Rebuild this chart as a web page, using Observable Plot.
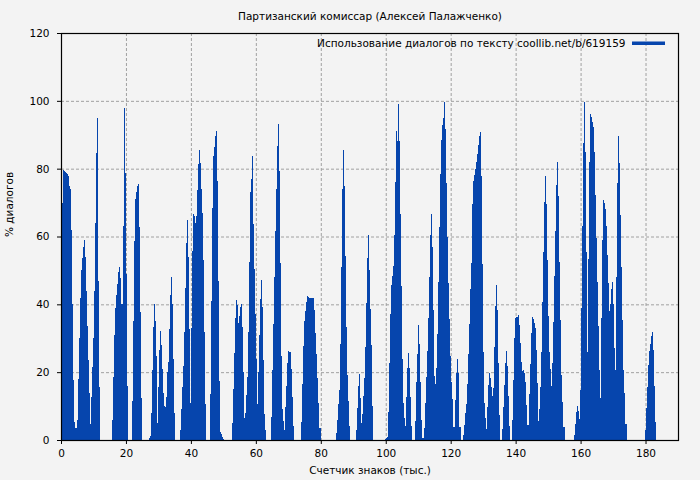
<!DOCTYPE html>
<html>
<head>
<meta charset="utf-8">
<script src="https://cdn.jsdelivr.net/npm/d3@7"></script>
<script src="https://cdn.jsdelivr.net/npm/@observablehq/plot@0.6"></script>
<style>
  html, body { margin: 0; padding: 0; background: #f3f3f3; }
  #chart svg { display: block; }
</style>
</head>
<body>
<div id="chart"></div>
<script>
const titleText = "Партизанский комиссар (Алексей Палажченко)";
const legendText = "Использование диалогов по тексту coollib.net/b/619159";
const xLabel = "Счетчик знаков (тыс.)";
const yLabel = "% диалогов";
const xTicks = [0, 20, 40, 60, 80, 100, 120, 140, 160, 180];
const yTicks = [0, 20, 40, 60, 80, 100, 120];
const chunk = 0.308; // thousands of characters per bar

// share of dialogue (%) per chunk, in order along the text
const dialogShare = [
  52,70,79.5,79.3,79,78.6,78.3,77.7,75,74, 62,40,17.7,5.4,3.4,3.4,6,18,30,42,
  50,53.6,57,59,54,44,33.6,23.6,14,4.7, 12.8,21.6,30,44,64,84.5,95,47,15.7,
  0,0,0,0,0,0,0,0,0,0,0,0,
  6,18.5,31,39,42.7,46,49.6,51,47.7,40, 40,63,98,78.7,49,16,
  0,0,0,0,
  11.6,35,58.8,71,73,75,75.5,62.7,37.8,12.5,
  0,0,0,0,0,0,0,
  0.5,1.3,8,20.6,33.4,40,35,24.8,5,15.7, 26.5,32,28,21,14,10,9.6,12.8,20,23, 32.6,42.7,48,40,24,8,
  0,0,0,0,0,
  3,9,15.7,21.8,31.7,44.7,58,65,54,32.6, 11,33,55.6,66.7,66,64,66,73.7,81.4,85.5, 81.6,74,67,53,31.7,10.5,
  0,0,0,0,
  13.6,41,68.5,83.6,86.5,89.7,91.2,76.4,47,17.4, 2.5,1.8,1,0.3,
  0,0,0,0,0,0,0,0,
  5,15,25.6,36,41.3,39.8,34.6,36.6,39.3,40, 33.4,20,6.4,7.9,13.3,18.7,31.8,52.4,73,77,
  83.8,63.7,50.4,37.2,24,10.6,20,31,41.5,47.2, 39.3,23.6,7.7,3,
  0,0,0,0,0,
  6.9,20.6,34.2,48,61.5,74,86.8,93.2,79.4,52.3, 24.8,9,5.7,3,9.8,16,22.6,26.3,26,25.8, 21,12.6,4,
  0,0,0,0,0,0,0,
  5.3,16.5,27.7,35,37.9,40.8,42.5,42.3,42,41.8, 41.8,41.8,41.8,38.3,31.5,25.4,18.2,11,3.4,3.4,
  0,0,0,0,0,0,0,0,0,0,0,0,0,0,0,
  2.2,6,10.6,14.7,28.2,51,74,85.5,75,54.3, 33.2,19.2,11.5,4,
  0,0,0,0,0,0,
  3,9.3,16,19.5,12.5,5,7.7,13,18.4,27.5, 40.3,53.6,60.5,50,38.5,28,10,
  0,0,0,0,0,0,0,0,0,0,0,0,
  0.2,0.5,1,8.3,22.6,37.2,45.7,48.4,51.3,60.5, 76,91.2,88.3,99,88.3,66.7,45.4,23.8,11,6.4,
  4.1,12.8,21.1,25.6,21.1,12.8,4.1,
  0,0,0,
  5.6,17,25.3,34,28.3,17.2,5.9,0.5,0.5,3.6, 11,18.7,26.3,35.9,48,60.5,66.7,57,38.2,19,
  16.5,21.3,31.2,46.7,62.9,78.5,88.5,93,94.9,99.8, 91.7,75.7,60,46.2,35.6,24.9,17,12,3.9,3.7,
  11.8,19.9,24,19.9,3.9,3.7,
  0,0,
  1.5,4.4,7.9,10.5,16.5,25.3,34.1,44.4,52.3,69.5, 76.5,78.2,80,82.1,84.4,87,89.5,90.8,77.9,52,
  26,11,6.4,3.1,9.8,16.2,19.9,18.2,15.5,13, 15.2,27.3,39.5,45.7,38.2,22.6,7.4,
  0,0,
  3.2,9.8,16.2,22.6,26.3,21.8,13,4.1,
  0,0,
  5.9,17.7,30,35.9,36.2,36.4,36.8,33.9,28.5,23.1, 20.4,20.5,19.7,17.2,10.3,4.4,4.4,13.6,22.4,31.5,
  36.2,35.6,34.4,32.9,26.5,16.7,5.6,9,15.7,26, 40.8,55.4,70.1,77.9,69.6,53.1,36.6,25.8,20.8,15.9,
  22.6,34.9,48.4,61.7,75.2,82.1,72,52.6,35.4,19.2, 11.3,3.9,3.7,
  0,0,0,0,0,0,0,0,0,
  1.5,4.7,8.4,10,8.5,6.1,14.7,39,63,87.5, 99.8,85,55.4,26,53.3,82,96,95.2,93.9,92.4,
  85,72.3,59.7,46.7,33.6,20.6,12.3,35.9,59,70.8, 70,68,63.1,54.6,46.4,37.9,40.1,44.4,46.7,40.1,
  27,20.6,48.2,75.7,89.7,81.8,66.4,51,35.4,20.6, 14,4.6,4.6,
  0,0,0,0,0,0,0,0,0,0,0,0,0,0,0,0,0,0,
  2.9,9.3,15.5,22.1,26.3,28.3,30.7,31.8,26.4,15.9,5.4
];

const bars = dialogShare.map((v, i) => ({x1: i * chunk, x2: (i + 1) * chunk, v}));
const barColor = "#0645ad";
const gridStyle = {stroke: "#a0a0a0", strokeOpacity: 1, strokeWidth: 1, strokeDasharray: "3,2"};

const chart = Plot.plot({
  width: 700,
  height: 480,
  marginLeft: 61,
  marginRight: 22,
  marginTop: 33,
  marginBottom: 40,
  style: {background: "#f3f3f3", fontFamily: "DejaVu Sans", fontSize: "10.5px", color: "black"},
  x: {domain: [0, 190], ticks: xTicks, tickSize: 4, tickPadding: 5, label: null},
  y: {domain: [0, 120], ticks: yTicks, tickSize: 4, tickPadding: 8, label: null},
  marks: [
    Plot.ruleX(xTicks, {x: d => d, ...gridStyle}),
    Plot.ruleY(yTicks, {y: d => d, ...gridStyle}),
    Plot.rectY(bars, {x1: "x1", x2: "x2", y1: 0, y2: "v", fill: barColor, inset: 0, shapeRendering: "crispEdges"}),
    Plot.frame({stroke: "black", strokeWidth: 1.2}),
    Plot.text([titleText], {frameAnchor: "top", dy: -17, lineAnchor: "middle", fontSize: 10.5, fill: "black"}),
    Plot.text([legendText], {frameAnchor: "top-right", dx: -53, dy: 10, lineAnchor: "middle", textAnchor: "end", fontSize: 10.5, fill: "black"}),
    Plot.text([xLabel], {frameAnchor: "bottom", dy: 30, lineAnchor: "middle", fontSize: 10.5, fill: "black"}),
    Plot.text([yLabel], {frameAnchor: "left", dx: -52, rotate: -90, lineAnchor: "middle", fontSize: 10.5, fill: "black"})
  ]
});

// legend swatch
d3.select(chart).append("line")
  .attr("x1", 632).attr("x2", 665).attr("y1", 43.3).attr("y2", 43.3)
  .attr("stroke", barColor).attr("stroke-width", 3.5);

document.getElementById("chart").appendChild(chart);
</script>
</body>
</html>
